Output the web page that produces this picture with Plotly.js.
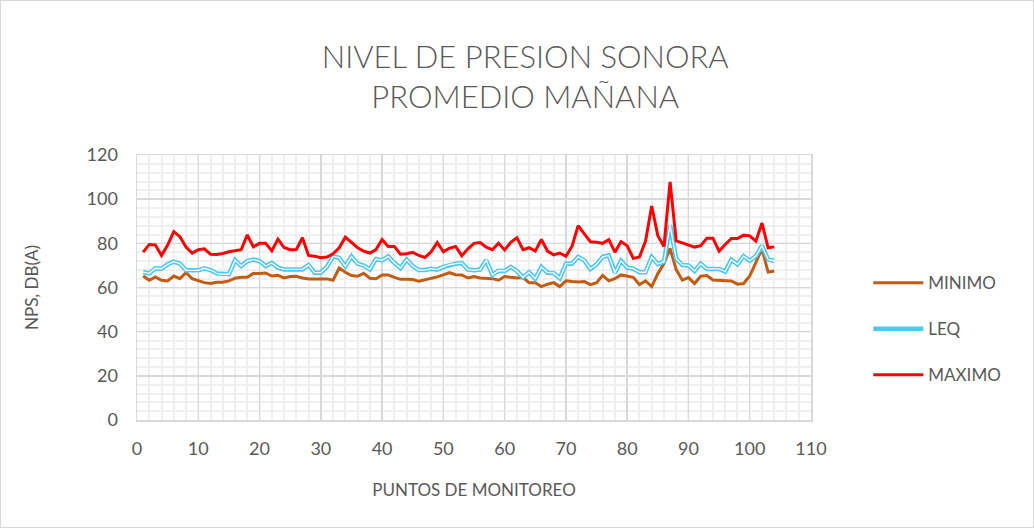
<!DOCTYPE html>
<html>
<head>
<meta charset="utf-8">
<script src="https://cdn.plot.ly/plotly-3.0.1.min.js"></script>
<style>
  html, body { margin: 0; padding: 0; background: #fff; }
  #chart { width: 1034px; height: 528px; box-sizing: border-box; border: 1px solid #d9d9d9; }
</style>
</head>
<body>
<div id="chart"></div>
<script>
const puntos = Array.from({length: 104}, (_, i) => i + 1);

const minimo = [
  65.2, 63.3, 64.8, 63.3, 63.0, 65.2, 64.0, 66.7, 64.0, 63.0,
  62.2, 61.8, 62.4, 62.4, 63.0, 64.2, 64.6, 64.6, 66.4, 66.3,
  66.6, 65.2, 65.5, 64.3, 65.0, 65.1, 64.3, 63.9, 63.9, 63.9,
  63.9, 63.3, 68.8, 66.9, 65.4, 65.1, 66.4, 64.2, 64.0, 65.7,
  65.7, 64.6, 63.7, 63.7, 63.6, 62.8, 63.4, 64.3, 64.8, 65.7,
  66.7, 65.8, 65.7, 64.3, 65.0, 64.3, 64.0, 64.0, 63.3, 65.0,
  64.6, 64.3, 64.5, 62.2, 62.2, 60.4, 61.5, 62.2, 60.4, 63.0,
  62.7, 62.5, 62.7, 61.3, 62.2, 65.5, 63.0, 64.0, 65.7, 65.2,
  64.6, 61.3, 63.0, 60.4, 66.3, 70.8, 77.7, 68.1, 63.3, 64.5,
  61.8, 65.1, 65.4, 63.4, 63.3, 63.0, 63.0, 61.5, 61.8, 65.2,
  71.2, 77.5, 67.0, 67.5
];

const leq = [
  67.0, 66.4, 68.7, 68.5, 70.5, 71.7, 70.8, 67.8, 67.8, 67.8,
  68.7, 67.9, 66.4, 66.0, 66.0, 72.4, 69.7, 72.0, 72.7, 72.0,
  69.7, 71.1, 69.0, 68.2, 68.2, 68.2, 68.2, 70.2, 66.7, 66.7,
  69.4, 74.1, 73.5, 69.6, 74.1, 70.8, 69.9, 68.2, 72.9, 72.3,
  74.1, 71.2, 68.8, 72.7, 69.7, 67.9, 67.9, 68.5, 68.1, 69.3,
  70.3, 70.8, 71.1, 68.1, 67.8, 68.1, 72.3, 65.7, 67.6, 67.5,
  69.3, 67.5, 64.6, 66.9, 64.0, 69.3, 66.7, 66.6, 64.2, 70.8,
  70.8, 73.9, 72.3, 68.4, 70.5, 73.9, 74.5, 66.7, 72.1, 69.0,
  68.5, 66.9, 66.9, 73.8, 70.6, 71.7, 88.2, 73.0, 70.2, 70.0,
  67.5, 70.8, 68.4, 68.4, 68.4, 67.2, 72.6, 70.5, 74.2, 72.1,
  74.2, 78.9, 72.7, 72.0
];

const maximo = [
  76.0, 79.5, 79.3, 74.5, 79.2, 85.3, 83.0, 78.3, 75.6, 77.1,
  77.5, 75.1, 75.0, 75.4, 76.2, 76.6, 77.1, 83.8, 78.4, 80.0,
  80.0, 76.6, 81.9, 78.1, 77.1, 77.2, 82.5, 74.5, 74.2, 73.5,
  73.8, 75.3, 78.0, 82.8, 80.5, 78.0, 76.5, 75.6, 77.2, 81.7,
  78.6, 78.6, 75.1, 75.3, 75.9, 74.5, 73.6, 76.2, 80.4, 76.2,
  77.8, 78.6, 74.4, 77.5, 80.0, 80.4, 78.3, 77.1, 80.1, 77.0,
  80.5, 82.5, 77.1, 78.0, 76.5, 81.7, 76.5, 74.8, 75.6, 74.1,
  78.7, 88.0, 84.3, 80.7, 80.5, 80.0, 81.7, 76.0, 80.8, 78.9,
  73.2, 73.8, 81.0, 96.9, 83.4, 78.6, 107.8, 81.1, 80.2, 79.2,
  78.3, 78.9, 82.3, 82.3, 76.5, 79.5, 82.2, 82.2, 83.7, 83.4,
  81.0, 89.2, 78.0, 78.4
];

const seriesNames = ['MINIMO', 'LEQ', 'MAXIMO'];
const xTicks = [0, 10, 20, 30, 40, 50, 60, 70, 80, 90, 100, 110];
const yTicks = [0, 20, 40, 60, 80, 100, 120];

const textColor = '#595959';
const fontFam = 'Lato, "Open Sans", sans-serif';

const traces = [
  { x: puntos, y: minimo, name: seriesNames[0], type: 'scatter', mode: 'lines',
    line: { color: '#c55a11', width: 3 }, legendgroup: 'a' },
  { x: puntos, y: leq, name: seriesNames[1], type: 'scatter', mode: 'lines',
    line: { color: '#4dc8f5', width: 4.5 }, legendgroup: 'b' },
  { x: puntos, y: leq, name: seriesNames[1], type: 'scatter', mode: 'lines',
    line: { color: '#ffffff', width: 1.3 }, showlegend: false, hoverinfo: 'skip', legendgroup: 'b' },
  { x: puntos, y: maximo, name: seriesNames[2], type: 'scatter', mode: 'lines',
    line: { color: '#ff0000', width: 3 }, legendgroup: 'c' }
];

const layout = {
  width: 1032, height: 526,
  margin: { l: 136, r: 222, t: 154, b: 107 },
  paper_bgcolor: '#ffffff', plot_bgcolor: '#ffffff',
  font: { family: fontFam, color: textColor },
  title: {
    text: 'NIVEL DE PRESION SONORA<br>PROMEDIO MAÑANA',
    font: { family: fontFam, size: 31, color: textColor, weight: 300 },
    x: 0.508, xanchor: 'center', xref: 'container',
    y: 0.873, yanchor: 'middle', yref: 'container'
  },
  xaxis: {
    range: [0, 110], tickvals: xTicks, ticktext: xTicks.map(String),
    showgrid: true, gridcolor: '#d9d9d9', gridwidth: 1.5,
    minor: { dtick: 2, showgrid: true, gridcolor: '#f0f0f0', gridwidth: 2 },
    showline: true, linecolor: '#d9d9d9', linewidth: 1.5, mirror: true,
    zeroline: false, ticks: '',
    tickfont: { size: 18, color: textColor, family: fontFam },
    ticklabelstandoff: 12,
    title: { text: 'PUNTOS DE MONITOREO', font: { size: 17, color: textColor, family: fontFam }, standoff: 26 }
  },
  yaxis: {
    range: [0, 120], tickvals: yTicks, ticktext: yTicks.map(String),
    showgrid: true, gridcolor: '#d9d9d9', gridwidth: 1.5,
    minor: { dtick: 4, showgrid: true, gridcolor: '#f0f0f0', gridwidth: 2 },
    showline: true, linecolor: '#d9d9d9', linewidth: 1.5, mirror: true,
    zeroline: false, ticks: '',
    tickfont: { size: 18, color: textColor, family: fontFam },
    ticklabelstandoff: 14,
    title: { text: 'NPS, DB(A)', font: { size: 17, color: textColor, family: fontFam }, standoff: 43 }
  },
  showlegend: true,
  legend: {
    x: 1.085, xanchor: 'left', y: 0.343, yanchor: 'middle',
    font: { size: 17, color: textColor, family: fontFam },
    traceorder: 'grouped', tracegroupgap: 21, itemwidth: 50,
    bgcolor: 'rgba(0,0,0,0)'
  }
};

Plotly.newPlot('chart', traces, layout, { displayModeBar: false, staticPlot: true });
</script>
</body>
</html>
